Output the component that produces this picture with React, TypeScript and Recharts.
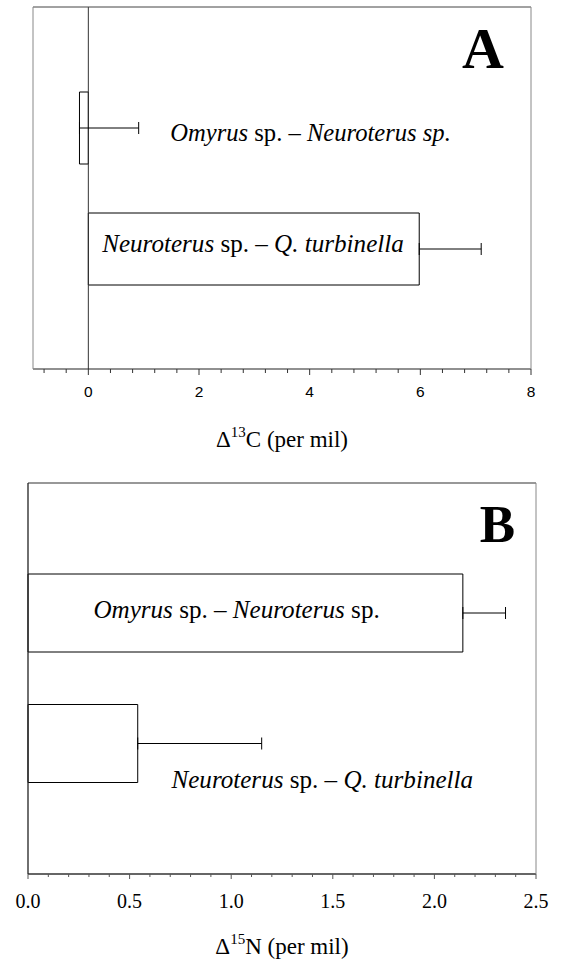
import React from 'react';
import { BarChart, Bar, XAxis, YAxis, ErrorBar, ReferenceLine, ReferenceDot } from 'recharts';

const categories = ['Omyrus sp. – Neuroterus sp.', 'Neuroterus sp. – Q. turbinella'];
const carbonDelta = [-0.16, 5.98];
const carbonError = [1.07, 1.12];
const nitrogenDelta = [2.14, 0.54];
const nitrogenError = [0.21, 0.61];

const carbonTicks = [-0.8, -0.4, 0, 0.4, 0.8, 1.2, 1.6, 2, 2.4, 2.8, 3.2, 3.6, 4, 4.4, 4.8, 5.2, 5.6, 6, 6.4, 6.8, 7.2, 7.6, 8];
const carbonTickLabels = [0, 2, 4, 6, 8];
const nitrogenTicks = [0, 0.1, 0.2, 0.3, 0.4, 0.5, 0.6, 0.7, 0.8, 0.9, 1, 1.1, 1.2, 1.3, 1.4, 1.5, 1.6, 1.7, 1.8, 1.9, 2, 2.1, 2.2, 2.3, 2.4, 2.5];
const nitrogenTickLabels = [0, 0.5, 1, 1.5, 2, 2.5];

type Part = [string, boolean];
const labelPartsA: Part[][] = [
  [['Omyrus', true], [' sp. – ', false], ['Neuroterus sp.', true]],
  [['Neuroterus', true], [' sp. – ', false], ['Q. turbinella', true]],
];
const labelPartsB: Part[][] = [
  [['Omyrus', true], [' sp. – ', false], ['Neuroterus', true], [' sp.', false]],
  [['Neuroterus', true], [' sp. – ', false], ['Q. turbinella', true]],
];

const carbonData = categories.map((name, i) => ({ name, value: carbonDelta[i], err: [0, carbonError[i]] }));
const nitrogenData = categories.map((name, i) => ({ name, value: nitrogenDelta[i], err: [0, nitrogenError[i]] }));

const SERIF = "'Liberation Serif', 'DejaVu Serif', serif";
const SANS = "'Liberation Sans', 'DejaVu Sans', sans-serif";

const makeTick = (
  labels: number[],
  minorLen: number,
  majorLen: number,
  family: string,
  size: number,
  baseline: number,
  fmt: (v: number) => string,
  color: string
) => (props: any) => {
  const { x, y, payload } = props;
  const v = payload.value;
  const isMajor = labels.some((l) => Math.abs(l - v) < 1e-6);
  return (
    <g>
      <line x1={x} x2={x} y1={y} y2={y + (isMajor ? majorLen : minorLen)} stroke={color} strokeWidth={1} />
      {isMajor && (
        <text x={x} y={y + baseline} textAnchor="middle" style={{ fontFamily: family, fontSize: size }} fill="#000">
          {fmt(v)}
        </text>
      )}
    </g>
  );
};

const speciesLabel = (parts: Part[], dy: number, size: number) => (props: any) => (
  <text x={props.cx} y={props.cy + dy} style={{ fontFamily: SERIF, fontSize: size, whiteSpace: 'pre' }} fill="#000">
    {parts.map(([t, it], k) => (
      <tspan key={k} style={{ fontStyle: it ? 'italic' : 'normal' }}>
        {t}
      </tspan>
    ))}
  </text>
);

const axisTitle = (iso: string, el: string, dy: number) => (props: any) => {
  const vb = props.viewBox || {};
  const cx = (vb.x || 0) + (vb.width || 0) / 2;
  const y = (vb.y || 0) + dy;
  return (
    <text x={cx} y={y} textAnchor="middle" style={{ fontFamily: SERIF, fontSize: 23 }} fill="#000">
      <tspan>Δ</tspan>
      <tspan style={{ fontSize: 15 }} dy={-10}>{iso}</tspan>
      <tspan dy={10}>{el} (per mil)</tspan>
    </text>
  );
};

const panelLetter = (letter: string, right: number, dy: number, size: number) => (props: any) => {
  const vb = props.viewBox || {};
  return (
    <text
      x={(vb.x || 0) + (vb.width || 0) - right}
      y={(vb.y || 0) + (vb.height || 0) + dy}
      textAnchor="end"
      style={{ fontFamily: SERIF, fontWeight: 'bold', fontSize: size }}
      fill="#000"
    >
      {letter}
    </text>
  );
};

function PanelA() {
  return (
    <BarChart
      width={561}
      height={470}
      layout="vertical"
      data={carbonData}
      margin={{ top: 6, right: 29, bottom: 71, left: 32 }}
    >
      <XAxis
        type="number"
        dataKey="value"
        domain={[-1, 8]}
        ticks={carbonTicks}
        interval={0}
        height={30}
        tickSize={0}
        tickMargin={0}
        tickLine={false}
        axisLine={{ stroke: '#222', strokeWidth: 1.2 }}
        tick={makeTick(carbonTickLabels, 4, 6, SANS, 15.5, 28, (v) => String(v), '#333')}
        label={{ content: axisTitle('13', 'C', 78) }}
      />
      <XAxis
        xAxisId="top"
        orientation="top"
        type="number"
        domain={[-1, 8]}
        height={1}
        tick={false}
        tickLine={false}
        axisLine={{ stroke: '#444', strokeWidth: 1 }}
        label={{ content: panelLetter('A', 27, 61, 58) }}
      />
      <YAxis
        type="category"
        dataKey="name"
        width={1}
        tick={false}
        tickLine={false}
        padding={{ top: 60, bottom: 60 }}
        axisLine={{ stroke: '#888', strokeWidth: 1 }}
      />
      <YAxis
        yAxisId="right"
        orientation="right"
        type="number"
        domain={[0, 1]}
        width={1}
        tick={false}
        tickLine={false}
        axisLine={{ stroke: '#888', strokeWidth: 1 }}
      />
      <ReferenceLine x={0} stroke="#333" strokeWidth={1} />
      <Bar dataKey="value" fill="#fff" stroke="#000" strokeWidth={1} barSize={72} isAnimationActive={false}>
        <ErrorBar dataKey="err" direction="x" width={6} stroke="#000" strokeWidth={1} isAnimationActive={false} />
      </Bar>
      <ReferenceDot x={1.48} y={categories[0]} r={1} shape={speciesLabel(labelPartsA[0], 13, 24.6)} />
      <ReferenceDot x={0.25} y={categories[1]} r={1} shape={speciesLabel(labelPartsA[1], 3, 25.1)} />
    </BarChart>
  );
}

function PanelB() {
  return (
    <BarChart
      width={561}
      height={491}
      layout="vertical"
      data={nitrogenData}
      margin={{ top: 12, right: 24, bottom: 57, left: 27 }}
    >
      <XAxis
        type="number"
        dataKey="value"
        domain={[0, 2.5]}
        ticks={nitrogenTicks}
        interval={0}
        height={30}
        tickSize={0}
        tickMargin={0}
        tickLine={false}
        axisLine={{ stroke: '#333', strokeWidth: 1.6 }}
        tick={makeTick(nitrogenTickLabels, 3, 5, SERIF, 20, 34, (v) => v.toFixed(1), '#555')}
        label={{ content: axisTitle('15', 'N', 80) }}
      />
      <XAxis
        xAxisId="top"
        orientation="top"
        type="number"
        domain={[0, 2.5]}
        height={1}
        tick={false}
        tickLine={false}
        axisLine={{ stroke: '#333', strokeWidth: 1.2 }}
        label={{ content: panelLetter('B', 21, 59, 53) }}
      />
      <YAxis
        type="category"
        dataKey="name"
        width={1}
        tick={false}
        tickLine={false}
        padding={{ top: 65, bottom: 65 }}
        axisLine={{ stroke: '#222', strokeWidth: 1.3 }}
      />
      <YAxis
        yAxisId="right"
        orientation="right"
        type="number"
        domain={[0, 1]}
        width={1}
        tick={false}
        tickLine={false}
        axisLine={{ stroke: '#888', strokeWidth: 1 }}
      />
      <Bar dataKey="value" fill="#fff" stroke="#000" strokeWidth={1} barSize={78} isAnimationActive={false}>
        <ErrorBar dataKey="err" direction="x" width={6} stroke="#000" strokeWidth={1} isAnimationActive={false} />
      </Bar>
      <ReferenceDot x={0.322} y={categories[0]} r={1} shape={speciesLabel(labelPartsB[0], 5, 25.1)} />
      <ReferenceDot x={0.706} y={categories[1]} r={1} shape={speciesLabel(labelPartsB[1], 44, 25.1)} />
    </BarChart>
  );
}

export default function App() {
  return (
    <div style={{ position: 'absolute', left: 0, top: 0, width: 561, height: 961, background: '#fff' }}>
      <div style={{ position: 'absolute', left: 0, top: 0 }}>
        <PanelA />
      </div>
      <div style={{ position: 'absolute', left: 0, top: 470 }}>
        <PanelB />
      </div>
    </div>
  );
}
